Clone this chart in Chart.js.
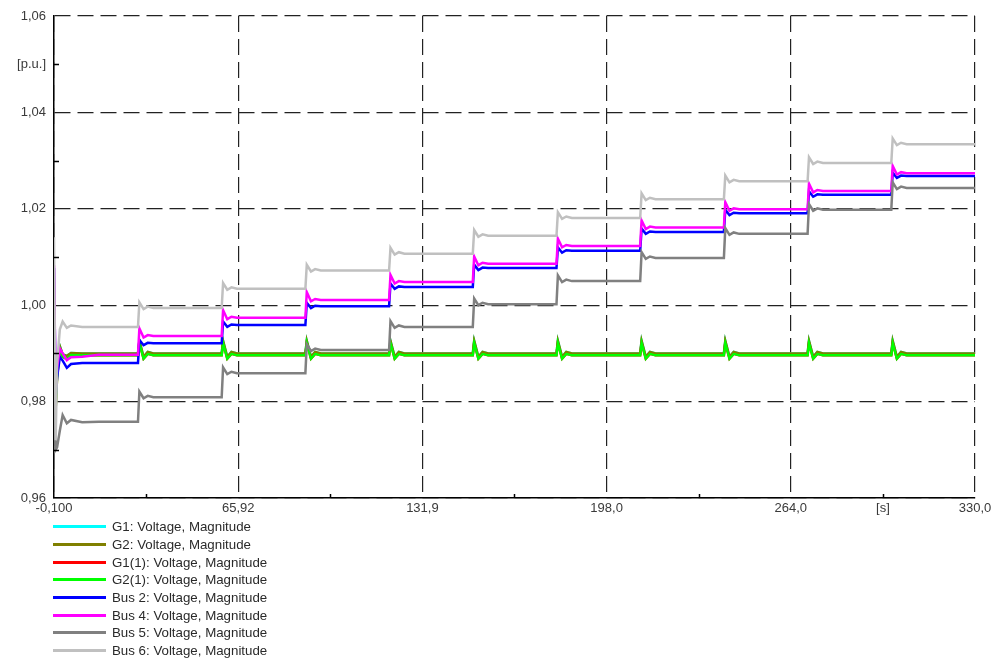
<!DOCTYPE html>
<html>
<head>
<meta charset="utf-8">
<script src="https://cdn.jsdelivr.net/npm/chart.js@4.4.0/dist/chart.umd.min.js"></script>
<style>
  body { margin: 0; background: #fff; }
  #wrap { position: relative; width: 992px; height: 660px; }
  #legend { position: absolute; left: 0; top: 518px; font: 13.3px "Liberation Sans", Arial, sans-serif; color: #2a2a2a; }
  .row { height: 17.7px; display: flex; align-items: center; white-space: nowrap; }
  .swatch { margin-left: 53px; width: 53px; height: 3px; margin-right: 6px; }
</style>
</head>
<body>
<div id="wrap">
  <canvas id="myChart" width="992" height="520"></canvas>
  <div id="legend"></div>
</div>
<script>
// time axis [s]
const time = [
  -0.1, 0, 0.5, 1, 2, 3, 4.5, 6, 10, 16,
  30, 30.5, 32, 33.5, 35.5,
  60, 60.5, 62, 63.5, 65.5,
  90, 90.5, 92, 93.5, 95.5,
  120, 120.5, 122, 123.5, 125.5,
  150, 150.5, 152, 153.5, 155.5,
  180, 180.5, 182, 183.5, 185.5,
  210, 210.5, 212, 213.5, 215.5,
  240, 240.5, 242, 243.5, 245.5,
  270, 270.5, 272, 273.5, 275.5,
  300, 300.5, 302, 303.5, 305.5,
  330
];

const g1 = [
  0.9902, 0.9902, 0.9800, 0.9860, 0.9915, 0.9898, 0.9895, 0.9901, 0.9900, 0.9900,
  0.9900, 0.9926, 0.9893, 0.9903, 0.9900,
  0.9900, 0.9926, 0.9893, 0.9903, 0.9900,
  0.9900, 0.9926, 0.9893, 0.9903, 0.9900,
  0.9900, 0.9926, 0.9893, 0.9903, 0.9900,
  0.9900, 0.9926, 0.9893, 0.9903, 0.9900,
  0.9900, 0.9926, 0.9893, 0.9903, 0.9900,
  0.9900, 0.9926, 0.9893, 0.9903, 0.9900,
  0.9900, 0.9926, 0.9893, 0.9903, 0.9900,
  0.9900, 0.9926, 0.9893, 0.9903, 0.9900,
  0.9900, 0.9926, 0.9893, 0.9903, 0.9900,
  0.9900
];
const g2 = [
  0.9902, 0.9902, 0.9800, 0.9860, 0.9915, 0.9898, 0.9895, 0.9901, 0.9900, 0.9900,
  0.9900, 0.9926, 0.9893, 0.9903, 0.9900,
  0.9900, 0.9926, 0.9893, 0.9903, 0.9900,
  0.9900, 0.9926, 0.9893, 0.9903, 0.9900,
  0.9900, 0.9926, 0.9893, 0.9903, 0.9900,
  0.9900, 0.9926, 0.9893, 0.9903, 0.9900,
  0.9900, 0.9926, 0.9893, 0.9903, 0.9900,
  0.9900, 0.9926, 0.9893, 0.9903, 0.9900,
  0.9900, 0.9926, 0.9893, 0.9903, 0.9900,
  0.9900, 0.9926, 0.9893, 0.9903, 0.9900,
  0.9900, 0.9926, 0.9893, 0.9903, 0.9900,
  0.9900
];
const g1b = [
  0.9897, 0.9897, 0.9785, 0.9850, 0.9911, 0.9893, 0.9888, 0.9897, 0.9896, 0.9896,
  0.9896, 0.9922, 0.9889, 0.9899, 0.9896,
  0.9896, 0.9922, 0.9889, 0.9899, 0.9896,
  0.9896, 0.9922, 0.9889, 0.9899, 0.9896,
  0.9896, 0.9922, 0.9889, 0.9899, 0.9896,
  0.9896, 0.9922, 0.9889, 0.9899, 0.9896,
  0.9896, 0.9922, 0.9889, 0.9899, 0.9896,
  0.9896, 0.9922, 0.9889, 0.9899, 0.9896,
  0.9896, 0.9922, 0.9889, 0.9899, 0.9896,
  0.9896, 0.9922, 0.9889, 0.9899, 0.9896,
  0.9896, 0.9922, 0.9889, 0.9899, 0.9896,
  0.9896
];
const g2b = [
  0.9897, 0.9897, 0.9785, 0.9850, 0.9911, 0.9893, 0.9888, 0.9897, 0.9896, 0.9896,
  0.9896, 0.9922, 0.9889, 0.9899, 0.9896,
  0.9896, 0.9922, 0.9889, 0.9899, 0.9896,
  0.9896, 0.9922, 0.9889, 0.9899, 0.9896,
  0.9896, 0.9922, 0.9889, 0.9899, 0.9896,
  0.9896, 0.9922, 0.9889, 0.9899, 0.9896,
  0.9896, 0.9922, 0.9889, 0.9899, 0.9896,
  0.9896, 0.9922, 0.9889, 0.9899, 0.9896,
  0.9896, 0.9922, 0.9889, 0.9899, 0.9896,
  0.9896, 0.9922, 0.9889, 0.9899, 0.9896,
  0.9896, 0.9922, 0.9889, 0.9899, 0.9896,
  0.9896
];
const bus2 = [
  1.0077, 1.0077, 0.9810, 0.9850, 0.9893, 0.9885, 0.9870, 0.9878, 0.9880, 0.9880,
  0.9880, 0.9928, 0.9917, 0.9922, 0.9921,
  0.9921, 0.9966, 0.9955, 0.9960, 0.9959,
  0.9959, 1.0005, 0.9994, 0.9999, 0.9998,
  0.9998, 1.0045, 1.0034, 1.0039, 1.0038,
  1.0038, 1.0084, 1.0073, 1.0078, 1.0077,
  1.0077, 1.0120, 1.0109, 1.0114, 1.0113,
  1.0113, 1.0159, 1.0148, 1.0153, 1.0152,
  1.0152, 1.0198, 1.0187, 1.0192, 1.0191,
  1.0191, 1.0236, 1.0225, 1.0230, 1.0229,
  1.0229, 1.0275, 1.0264, 1.0269, 1.0268,
  1.0268
];
const bus4 = [
  1.0083, 1.0083, 0.9820, 0.9870, 0.9910, 0.9900, 0.9886, 0.9892, 0.9893, 0.9897,
  0.9897, 0.9952, 0.9933, 0.9938, 0.9936,
  0.9936, 0.9990, 0.9971, 0.9976, 0.9974,
  0.9974, 1.0027, 1.0008, 1.0013, 1.0011,
  1.0011, 1.0063, 1.0045, 1.0050, 1.0048,
  1.0048, 1.0101, 1.0083, 1.0088, 1.0086,
  1.0086, 1.0138, 1.0120, 1.0125, 1.0123,
  1.0123, 1.0176, 1.0158, 1.0163, 1.0161,
  1.0161, 1.0214, 1.0196, 1.0201, 1.0199,
  1.0199, 1.0252, 1.0234, 1.0239, 1.0237,
  1.0237, 1.0289, 1.0271, 1.0276, 1.0274,
  1.0274
];
const bus5 = [
  0.9900, 0.9900, 0.9700, 0.9705, 0.9740, 0.9772, 0.9755, 0.9762, 0.9757, 0.9758,
  0.9758, 0.9821, 0.9807, 0.9812, 0.9809,
  0.9809, 0.9871, 0.9857, 0.9862, 0.9859,
  0.9859, 0.9919, 0.9905, 0.9910, 0.9907,
  0.9907, 0.9967, 0.9953, 0.9958, 0.9955,
  0.9955, 1.0014, 1.0000, 1.0005, 1.0002,
  1.0002, 1.0062, 1.0048, 1.0053, 1.0050,
  1.0050, 1.0110, 1.0096, 1.0101, 1.0098,
  1.0098, 1.0160, 1.0146, 1.0151, 1.0148,
  1.0148, 1.0210, 1.0196, 1.0201, 1.0198,
  1.0198, 1.0255, 1.0241, 1.0246, 1.0243,
  1.0243
];
const bus6 = [
  1.0141, 1.0141, 0.9720, 0.9880, 0.9950, 0.9966, 0.9953, 0.9958, 0.9955, 0.9955,
  0.9955, 1.0006, 0.9992, 0.9997, 0.9994,
  0.9994, 1.0046, 1.0032, 1.0037, 1.0034,
  1.0034, 1.0084, 1.0070, 1.0075, 1.0072,
  1.0072, 1.0119, 1.0105, 1.0110, 1.0107,
  1.0107, 1.0156, 1.0142, 1.0147, 1.0144,
  1.0144, 1.0193, 1.0179, 1.0184, 1.0181,
  1.0181, 1.0232, 1.0218, 1.0223, 1.0220,
  1.0220, 1.0269, 1.0255, 1.0260, 1.0257,
  1.0257, 1.0307, 1.0293, 1.0298, 1.0295,
  1.0295, 1.0346, 1.0332, 1.0337, 1.0334,
  1.0334
];

const seriesLabels = [
  'G1: Voltage, Magnitude', 'G2: Voltage, Magnitude',
  'G1(1): Voltage, Magnitude', 'G2(1): Voltage, Magnitude',
  'Bus 2: Voltage, Magnitude', 'Bus 4: Voltage, Magnitude',
  'Bus 5: Voltage, Magnitude', 'Bus 6: Voltage, Magnitude'
];
const seriesColors = ['#00ffff', '#808000', '#ff0000', '#00ff00', '#0000ff', '#ff00ff', '#808080', '#c0c0c0'];
const seriesValues = [g1, g2, g1b, g2b, bus2, bus4, bus5, bus6];

const xTicks = [-0.1, 32.91, 65.92, 98.93, 131.94, 164.95, 197.96, 230.97, 263.98, 296.99, 330];
const xTickLabels = ['-0,100', '', '65,92', '', '131,9', '', '198,0', '', '264,0', '[s]', '330,0'];
const yTicks = [0.96, 0.97, 0.98, 0.99, 1.00, 1.01, 1.02, 1.03, 1.04, 1.05, 1.06];
const yTickLabels = ['0,96', '', '0,98', '', '1,00', '', '1,02', '', '1,04', '[p.u.]', '1,06'];

// short tick marks inside the plot for the in-between ticks
const minorTicks = {
  id: 'minorTicks',
  afterDatasetsDraw(chart) {
    const { ctx, chartArea } = chart;
    const x = chart.scales.x, y = chart.scales.y;
    ctx.save();
    ctx.strokeStyle = '#000';
    ctx.lineWidth = 1.5;
    ctx.beginPath();
    x.ticks.forEach((t, i) => {
      if (i % 2) {
        const px = Math.round(x.getPixelForValue(t.value)) + 0.5;
        ctx.moveTo(px, chartArea.bottom);
        ctx.lineTo(px, chartArea.bottom - 4);
      }
    });
    y.ticks.forEach((t, i) => {
      if (i % 2) {
        const py = Math.round(y.getPixelForValue(t.value)) + 0.5;
        ctx.moveTo(chartArea.left, py);
        ctx.lineTo(chartArea.left + 5, py);
      }
    });
    ctx.stroke();
    ctx.restore();
  }
};

window.addEventListener("DOMContentLoaded", () => {
  const ctx = document.getElementById("myChart");
  if (!ctx) return;

  Chart.defaults.font.family = '"Liberation Sans", Arial, sans-serif';
  Chart.defaults.font.size = 13;
  Chart.defaults.color = '#3a3a3a';

  const datasets = seriesValues.map((vals, i) => ({
    label: seriesLabels[i],
    data: time.map((t, j) => ({ x: t, y: vals[j] })),
    borderColor: seriesColors[i],
    backgroundColor: seriesColors[i],
    borderWidth: 2.5,
    pointRadius: 0,
    tension: 0,
    order: seriesValues.length - i
  }));

  new Chart(ctx, {
    type: 'line',
    data: { datasets },
    plugins: [minorTicks],
    options: {
      responsive: false,
      animation: false,
      layout: { padding: { top: 16, right: 17, left: 0, bottom: 0 } },
      scales: {
        x: {
          type: 'linear',
          min: -0.1,
          max: 330,
          afterBuildTicks: s => { s.ticks = xTicks.map(v => ({ value: v })); },
          afterFit: s => { s.height = 22; s.paddingLeft = 0; s.paddingRight = 0; },
          ticks: {
            autoSkip: false,
            maxRotation: 0,
            padding: 3,
            callback: (v, i) => xTickLabels[i]
          },
          grid: {
            drawTicks: false,
            lineWidth: 1.2,
            color: c => (c.index % 2 ? 'rgba(0,0,0,0)' : '#222')
          },
          border: { display: true, color: '#000', width: 1.5, dash: [16, 7] }
        },
        y: {
          type: 'linear',
          min: 0.96,
          max: 1.06,
          afterBuildTicks: s => { s.ticks = yTicks.map(v => ({ value: v })); },
          afterFit: s => { s.width = 54; s.paddingTop = 0; s.paddingBottom = 0; },
          ticks: {
            autoSkip: false,
            padding: 8,
            callback: (v, i) => yTickLabels[i]
          },
          grid: {
            drawTicks: false,
            lineWidth: 1.2,
            color: c => (c.index % 2 ? 'rgba(0,0,0,0)' : '#222')
          },
          border: { display: true, color: '#000', width: 1.5, dash: [16, 7] }
        }
      },
      plugins: {
        legend: { display: false },
        tooltip: { enabled: false }
      }
    }
  });

  const legend = document.getElementById('legend');
  seriesLabels.forEach((lab, i) => {
    const row = document.createElement('div');
    row.className = 'row';
    const sw = document.createElement('span');
    sw.className = 'swatch';
    sw.style.background = seriesColors[i];
    const txt = document.createElement('span');
    txt.textContent = lab;
    row.appendChild(sw);
    row.appendChild(txt);
    legend.appendChild(row);
  });
});
</script>
</body>
</html>
